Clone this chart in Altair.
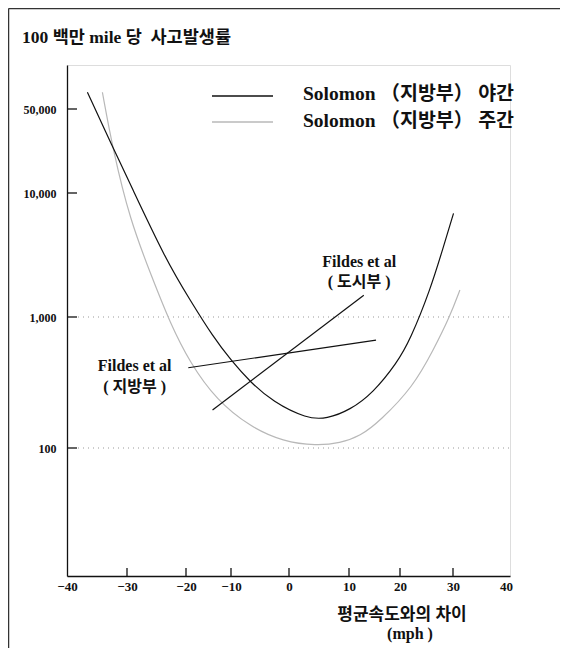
import altair as alt
import pandas as pd

# ---- data ----
night_x = [-36.6, -32.3, -29.5, -23.4, -19.1, -14.0, -9.9, -6.7, -2.8, 3.0, 6.3, 10.2, 14.7, 19.4, 21.9, 25.7, 28.2, 30.1]
night_y = [69000, 23600, 12000, 2880, 1370, 707, 461, 320, 225, 167, 167, 195, 263, 446, 667, 1650, 3690, 6850]

day_x = [-34.1, -32.4, -29.5, -25.8, -22.7, -19.1, -13.2, -6.7, -1.0, 4.6, 8.5, 12.2, 16.1, 22.5, 26.3, 29.4, 31.3]
day_y = [68900, 23600, 6050, 2110, 900, 446, 232, 145, 112, 104, 109, 123, 161, 294, 560, 1006, 1650]

urban_x = [-14.1, 12.9]
urban_y = [195, 1500]
rural_x = [-19.5, 15.3]
rural_y = [410, 667]

x_ticks = [-40, -30, -20, -10, 0, 10, 20, 30, 40]
x_inner_ticks = [-30, -20, -10, 0, 10, 20, 30]
y_ticks = [100, 1000, 10000, 50000]
grid_values = [100, 1000]

legend_labels = ["Solomon （지방부） 야간", "Solomon （지방부） 주간"]
title_text = "100 백만 mile 당\u00a0\u00a0사고발생률"
x_title = ["평균속도와의 차이", "(mph )"]

ann_text = ["Fildes et al", "( 도시부 )", "Fildes et al", "( 지방부 )"]
ann_x = [12.0, 12.0, -28.7, -28.7]
ann_y = [2770, 1915, 423, 293]

# ---- styling ----
FONT = "Liberation Serif, Noto Sans CJK KR"
BLACK = "#111111"
GRAY = "#b8b8b8"
W, H = 443, 511

xscale = alt.Scale(domain=x_ticks + [40.8],
                   range=[0, 60, 119, 164, 222, 282, 333, 386, 439, 443],
                   nice=False, zero=False)
yscale = alt.Scale(type="log", domain=[10, 100, 1000, 10000, 50000, 116000],
                   range=[511, 383, 252, 128, 44, 0], nice=False)

xaxis = alt.Axis(values=x_ticks, format="d", ticks=False, grid=False, title=None,
                 domainColor=BLACK, domainWidth=1.3, labelFont=FONT, labelFontWeight="bold",
                 labelFontSize=13, labelColor=BLACK, labelPadding=4, labelFlush=False)
yaxis = alt.Axis(values=y_ticks, format=",d", ticks=False, grid=False, title=None,
                 domainColor=BLACK, domainWidth=1.3, labelFont=FONT, labelFontWeight="bold",
                 labelFontSize=12, labelColor=BLACK, labelPadding=11)

X = alt.X("x:Q", scale=xscale, axis=xaxis)
Y = alt.Y("y:Q", scale=yscale, axis=yaxis)

df_night = pd.DataFrame({"x": night_x, "y": night_y})
df_day = pd.DataFrame({"x": day_x, "y": day_y})
df_urban = pd.DataFrame({"x": urban_x, "y": urban_y})
df_rural = pd.DataFrame({"x": rural_x, "y": rural_y})
df_ann = pd.DataFrame({"x": ann_x, "y": ann_y, "t": ann_text})
df_yt = pd.DataFrame({"y": y_ticks})
df_xt = pd.DataFrame({"x": x_inner_ticks})
df_grid = pd.DataFrame({"y": grid_values})
one = pd.DataFrame({"a": [0]})

night = alt.Chart(df_night).mark_line(color=BLACK, strokeWidth=1.2, interpolate="basis").encode(x=X, y=Y)
day = alt.Chart(df_day).mark_line(color=GRAY, strokeWidth=1.2, interpolate="basis").encode(x=X, y=Y)
urban = alt.Chart(df_urban).mark_line(color=BLACK, strokeWidth=1.2).encode(x=X, y=Y)
rural = alt.Chart(df_rural).mark_line(color=BLACK, strokeWidth=1.2).encode(x=X, y=Y)

grid = alt.Chart(df_grid).mark_rule(color="#999999", strokeDash=[1, 4], strokeWidth=1).encode(
    y=Y, x=alt.value(11), x2=alt.value(W))
ytick = alt.Chart(df_yt).mark_rule(color=BLACK, strokeWidth=1.3).encode(
    y=Y, x=alt.value(0), x2=alt.value(10))
xtick = alt.Chart(df_xt).mark_rule(color=BLACK, strokeWidth=1.3).encode(
    x=X, y=alt.value(H - 8), y2=alt.value(H))

ann = alt.Chart(df_ann).mark_text(font=FONT, fontWeight="bold", fontSize=16, color=BLACK,
                                  align="center", baseline="middle").encode(x=X, y=Y, text="t:N")

def txt(s, x, y, size, align="left"):
    return alt.Chart(pd.DataFrame({"t": [s]})).mark_text(
        font=FONT, fontWeight="bold", fontSize=size, color=BLACK, align=align, baseline="middle"
    ).encode(text="t:N", x=alt.value(x), y=alt.value(y))

def hline(x1, x2, y, color, width=1.3):
    return alt.Chart(one).mark_rule(color=color, strokeWidth=width).encode(
        x=alt.value(x1), x2=alt.value(x2), y=alt.value(y))

title = txt(title_text, -45, -27, 17.5)
leg1_line = hline(145, 206, 31, BLACK)
leg2_line = hline(145, 206, 57, GRAY)
leg1_txt = txt(legend_labels[0], 236, 29, 19.5)
leg2_txt = txt(legend_labels[1], 236, 56, 19.5)
xt1 = txt(x_title[0], 335, 550, 17, "center")
xt2 = txt(x_title[1], 343, 569, 16, "center")

frame_top = hline(-58.5, 493, -56.5, "#333333", 1.5)
frame_left = alt.Chart(one).mark_rule(color="#333333", strokeWidth=1.5).encode(
    x=alt.value(-58.5), y=alt.value(-56.5), y2=alt.value(583))

chart = alt.layer(
    grid, day, night, urban, rural, ytick, xtick, ann,
    title, leg1_line, leg2_line, leg1_txt, leg2_txt, xt1, xt2, frame_top, frame_left
).properties(
    width=W, height=H,
    autosize=alt.AutoSizeParams(type="none"),
    padding={"left": 59, "top": 57, "right": 50, "bottom": 72},
).configure_view(stroke=None).configure(background="white")

chart.save("out.html", embed_options={"renderer": "svg", "actions": False})
